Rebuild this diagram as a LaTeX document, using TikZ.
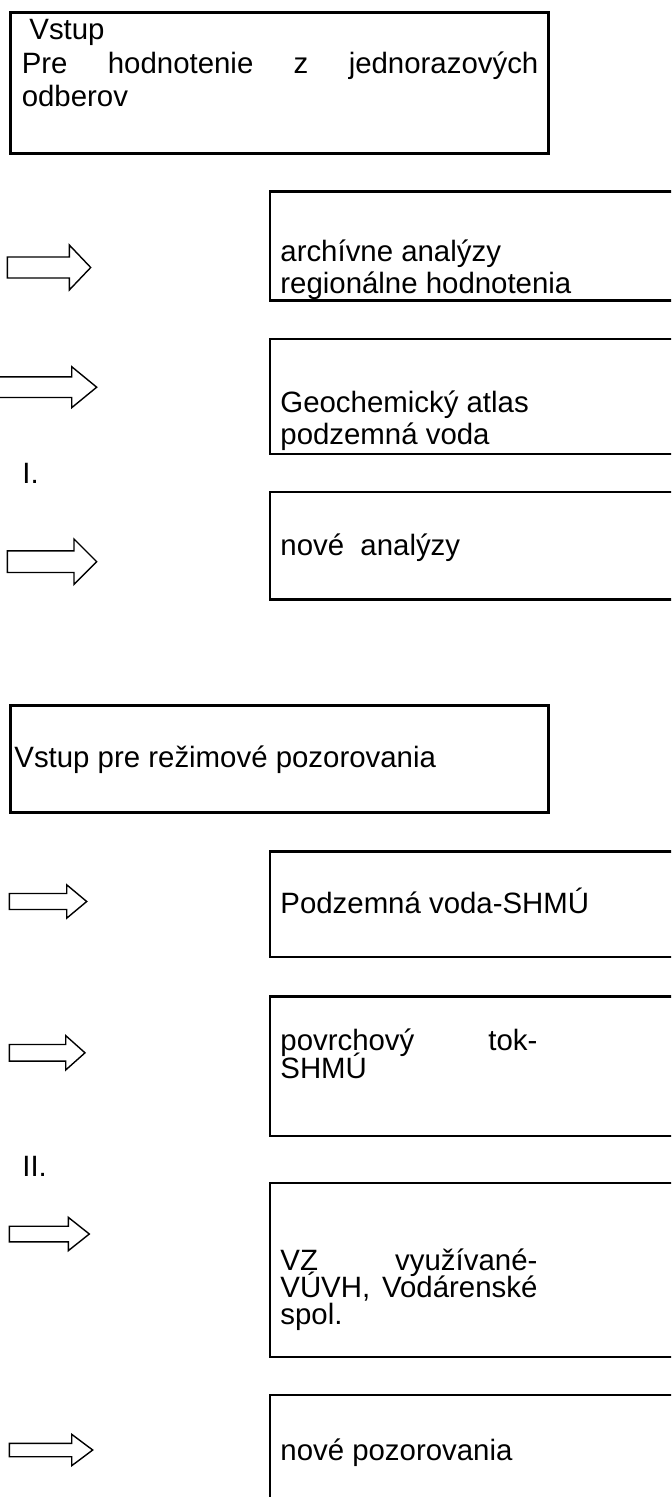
\documentclass[tikz,border=0pt]{standalone}
\usepackage{fontspec}
\setmainfont{Liberation Sans}
% hollow block arrow: x start, x of head base, x of tip, y centre, shaft half height, head half height
\newcommand\blockarrow[6]{%
  \draw[blockarrowline] (#1,#4-#5) -- (#2,#4-#5) -- (#2,#4-#6) -- (#3,#4)
    -- (#2,#4+#6) -- (#2,#4+#5) -- (#1,#4+#5) -- cycle;}
% line spacing inside a text block
\newcommand\linespacing[1]{\baselineskip=#1\lineskiplimit=-20pt\lineskip=0pt\relax}
% a line stretched to full width
\newcommand\fullline[2]{\makebox[#1][s]{#2}}
\begin{document}
\begin{tikzpicture}[x=0.5pt,y=-0.5pt,
  frame/.style={draw=black,line width=1.25pt},
  blockarrowline/.style={draw=black,fill=white,line width=0.7pt,line join=miter},
  txt/.style={inner sep=0pt,anchor=base west,font=\fontsize{14.7pt}{16.5pt}\selectfont}]
\useasboundingbox (0,0) rectangle (671,1497);
\clip (0,0) rectangle (671,1497);

% ---- part I ----
\draw[frame] (10.5,12.5) rectangle (548.5,153.5);
\node[txt] (in1) at (21.4,40) {\parbox[t]{258.3pt}{\linespacing{16.6pt}%
  \hspace*{3.8pt}Vstup\\
  \fullline{258.3pt}{Pre hodnotenie z jednorazových}\\
  odberov}};

\draw[frame] (270,191.5) rectangle (700,300.5);
\node[txt] (arch) at (280,261.7) {\parbox[t]{200pt}{\linespacing{16pt}%
  archívne analýzy\\regionálne hodnotenia}};

\draw[frame] (270,339) rectangle (700,454);
\node[txt] (atlas) at (280,413) {\parbox[t]{200pt}{\linespacing{16pt}%
  Geochemický atlas\\podzemná voda}};

\draw[frame] (270,492) rectangle (700,599.5);
\node[txt] (nova) at (280,555) {nové~ analýzy};

\node[txt] (roman1) at (22,483) {I.};

\blockarrow{7.3}{69.3}{90.7}{267.5}{10.5}{22.5}
\blockarrow{-2}{71.7}{96.7}{387.2}{10.3}{20.5}
\blockarrow{7.3}{74}{96.7}{561.7}{10.8}{22.7}

% ---- part II ----
\draw[frame] (10.5,705.5) rectangle (548.5,812.5);
\node[txt] (in2) at (14,767) {Vstup pre režimové pozorovania};

\draw[frame] (270,851.5) rectangle (700,957);
\node[txt] (pv) at (280,913.5) {Podzemná voda-SHMÚ};

\draw[frame] (270,996.5) rectangle (700,1136);
\node[txt] (tok) at (280,1050) {\parbox[t]{128.5pt}{\linespacing{14pt}%
  \fullline{128.5pt}{povrchový tok-}\\SHMÚ}};

\draw[frame] (270,1183) rectangle (700,1357);
\node[txt] (vz) at (280,1270) {\parbox[t]{128.5pt}{\linespacing{13.6pt}%
  \fullline{128.5pt}{VZ využívané-}\\
  \fullline{128.5pt}{VÚVH, Vodárenské}\\
  spol.}};

\draw[frame] (270,1395) rectangle (700,1560);
\node[txt] (npoz) at (280,1460) {nové pozorovania};

\node[txt] (roman2) at (22,1176) {II.};

\blockarrow{9.3}{66.7}{86.7}{901.5}{8}{16.7}
\blockarrow{9.3}{65.7}{85}{1052.8}{8.3}{17.2}
\blockarrow{9.3}{68.3}{89.3}{1234}{7.8}{16.7}
\blockarrow{9.3}{71.7}{92.7}{1450}{6.7}{15.7}
\end{tikzpicture}
\end{document}
